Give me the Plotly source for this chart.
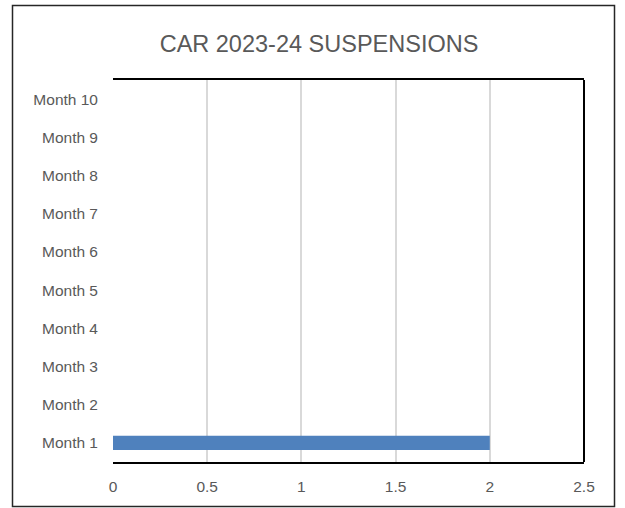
import plotly.graph_objects as go

categories = ["Month 1", "Month 2", "Month 3", "Month 4", "Month 5",
              "Month 6", "Month 7", "Month 8", "Month 9", "Month 10"]
values = [2, 0, 0, 0, 0, 0, 0, 0, 0, 0]
x_ticks = [0, 0.5, 1, 1.5, 2, 2.5]
x_tick_labels = ["0", "0.5", "1", "1.5", "2", "2.5"]
title_text = "CAR 2023-24 SUSPENSIONS"

W, H = 625, 508
L, R, T, B = 113, 584, 80, 462
pw, ph = R - L, B - T

fig = go.Figure(go.Bar(
    x=values, y=categories, orientation="h",
    marker=dict(color="#4F81BD", line=dict(width=0)),
    width=0.37,
))

def px_to_paper_x(px):
    return (px - L) / pw

def px_to_paper_y(py):
    return (B - py) / ph

fig.update_layout(
    width=W, height=H, autosize=False,
    margin=dict(l=L, r=W - R, t=T, b=H - B, pad=0, autoexpand=False),
    paper_bgcolor="white", plot_bgcolor="white",
    showlegend=False,
    font=dict(family="Liberation Sans, Arial, sans-serif", color="#595959", size=15.5),
    title=dict(text=title_text, x=319 / W, xref="container", xanchor="center",
               y=1 - 44 / H, yref="container", yanchor="middle",
               font=dict(size=23.5, color="#595959")),
    xaxis=dict(range=[0, 2.5], tickvals=x_ticks, ticktext=x_tick_labels,
               showgrid=True, gridcolor="#D9D9D9", gridwidth=1.5,
               zeroline=False, showline=True, linecolor="black", linewidth=2,
               mirror=True, ticks="", ticklen=0, fixedrange=True,
               ticklabelstandoff=9, automargin=False),
    yaxis=dict(showgrid=False, zeroline=False, showline=False, ticks="",
               ticklabelstandoff=14, automargin=False, fixedrange=True),
    shapes=[
        # right border of plot area
        dict(type="line", xref="paper", yref="paper", x0=1, x1=1, y0=0, y1=1,
             line=dict(color="black", width=2), layer="above"),
        # outer chart border
        dict(type="rect", xref="paper", yref="paper",
             x0=px_to_paper_x(12.5), x1=px_to_paper_x(614.5),
             y0=px_to_paper_y(506.5), y1=px_to_paper_y(5.5),
             line=dict(color="#262626", width=1.5), fillcolor="rgba(0,0,0,0)",
             layer="above"),
    ],
)

fig.write_html(
    "out.html",
    config={"responsive": False, "displayModeBar": False},
    post_script="document.body.style.margin='0';document.body.style.overflow='hidden';",
)
